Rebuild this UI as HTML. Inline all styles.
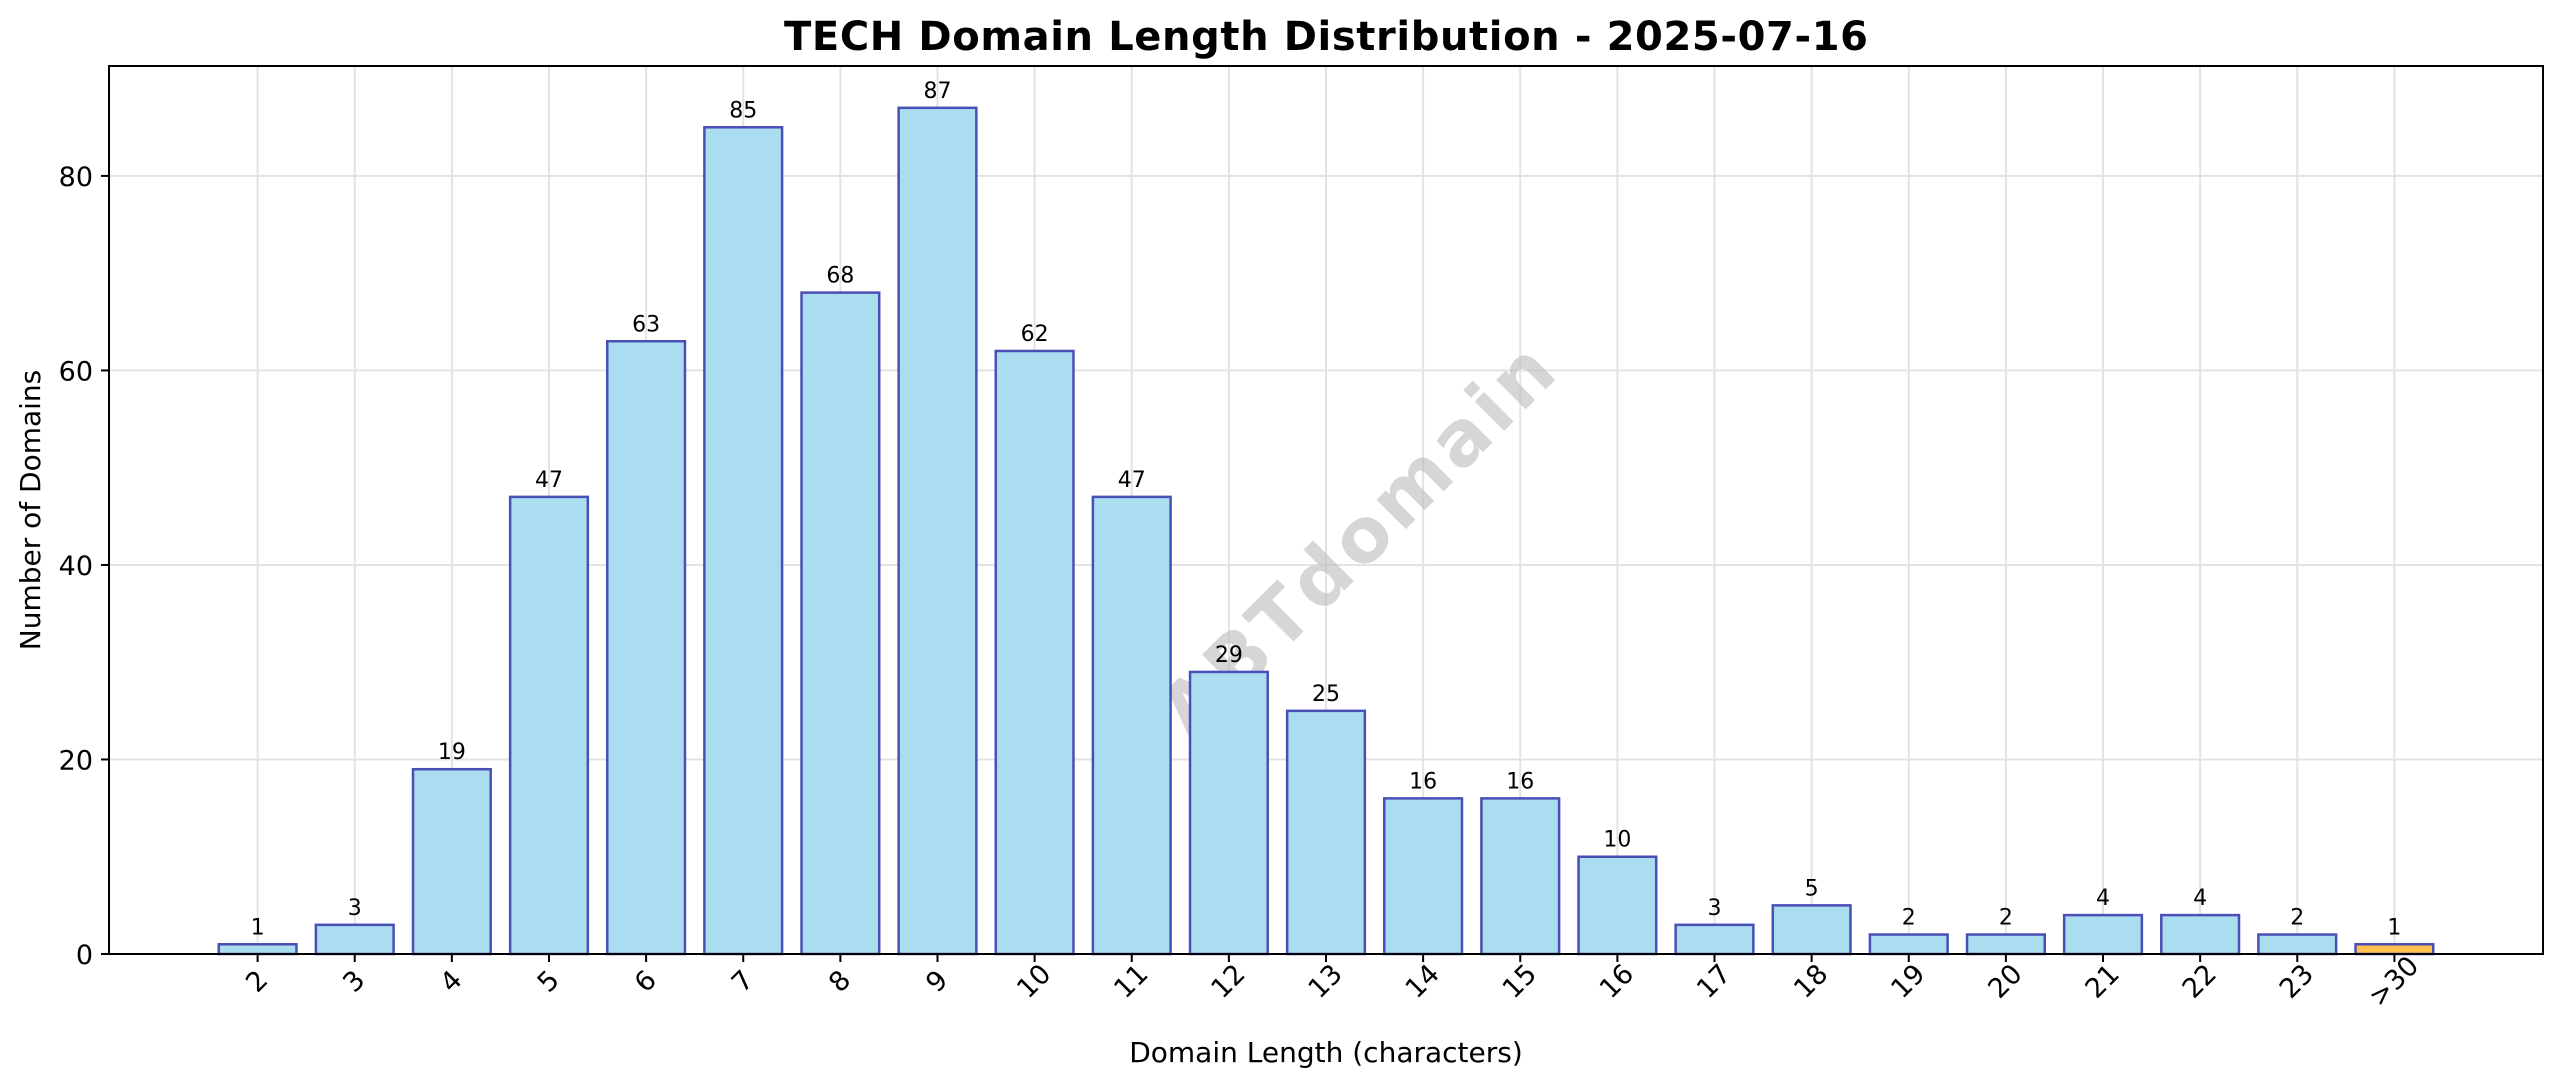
<!DOCTYPE html>
<html><head><meta charset="utf-8"><style>
html,body{margin:0;padding:0;background:#fff;}
svg{display:block;font-family:"DejaVu Sans","Liberation Sans",sans-serif;}
</style></head><body>
<svg id="chart" width="2560" height="1087" viewBox="0 0 2560 1087">
<rect width="2560" height="1087" fill="#fff"/>
<g id="grid"></g>
<text x="1326" y="580" transform="rotate(-45 1326 510)" text-anchor="middle" font-size="76" font-weight="bold" fill="#bbbbbb" fill-opacity="0.6" textLength="520">ABTdomain</text>
<g id="bars"></g>
<g id="labels"></g>
<rect x="109" y="66" width="2434" height="888" fill="none" stroke="#000" stroke-width="2"/>
<g id="xticks"></g>
<g id="yticks"></g>
<text x="1326" y="50" text-anchor="middle" font-size="40" font-weight="bold" textLength="1084">TECH Domain Length Distribution - 2025-07-16</text>
<text x="1326" y="1062" text-anchor="middle" font-size="28">Domain Length (characters)</text>
<text x="40" y="510" transform="rotate(-90 40 510)" text-anchor="middle" font-size="28">Number of Domains</text>
</svg>
<script>
const categories = ["2","3","4","5","6","7","8","9","10","11","12","13","14","15","16","17","18","19","20","21","22","23",">30"];
const counts = [1,3,19,47,63,85,68,87,62,47,29,25,16,16,10,3,5,2,2,4,4,2,1];
const yTicks = [0,20,40,60,80];
const NS = "http://www.w3.org/2000/svg";
const L=109,R=2543,T=66,B=954;
const yMax=91.3;
const n=categories.length;
const step=(R-L)/(n-1+2*1.53);
function xPos(i){return L+(i+1.53)*step;}
function yPos(v){return B-v/yMax*(B-T);}
function mk(tag,attrs,parent){const e=document.createElementNS(NS,tag);for(const k in attrs)e.setAttribute(k,attrs[k]);parent.appendChild(e);return e;}
const grid=document.getElementById('grid'),bars=document.getElementById('bars'),labels=document.getElementById('labels'),xt=document.getElementById('xticks'),yt=document.getElementById('yticks');
yTicks.forEach(v=>{
  const y=yPos(v);
  const g=mk('line',{x1:L,x2:R,y1:y,y2:y,stroke:'#e3e3e3','stroke-width':2},grid);
  
  
  const t=mk('line',{x1:L-8,x2:L,y1:y,y2:y,stroke:'#000','stroke-width':2},yt);
  
  
  const tx=mk('text',{x:L-16,y:y+10,'text-anchor':'end','font-size':27},yt);
  tx.textContent=v;
  
  
});
categories.forEach((c,i)=>{
  const x=xPos(i);
  const g=mk('line',{x1:x,x2:x,y1:T,y2:B,stroke:'#e3e3e3','stroke-width':2},grid);
  
  
  const w=step*0.8, v=counts[i], y=yPos(v);
  const r=mk('rect',{x:x-w/2,y:y,width:w,height:B-y,fill:c===">30"?'#ffc04d':'#aaddf0',stroke:'#4a4fb5','stroke-width':2.5},bars);
  
  
  const lb=mk('text',{x:x,y:y-10,'text-anchor':'middle','font-size':22},labels);
  lb.textContent=v;
  
  
  const t=mk('line',{x1:x,x2:x,y1:B,y2:B+8,stroke:'#000','stroke-width':2},xt);
  
  
  const tx=mk('text',{x:x,y:990,'text-anchor':'middle','font-size':27,transform:'rotate(-45 '+x+' 982)'},xt);
  tx.textContent=c;
  
  
});
</script>
</body></html>
